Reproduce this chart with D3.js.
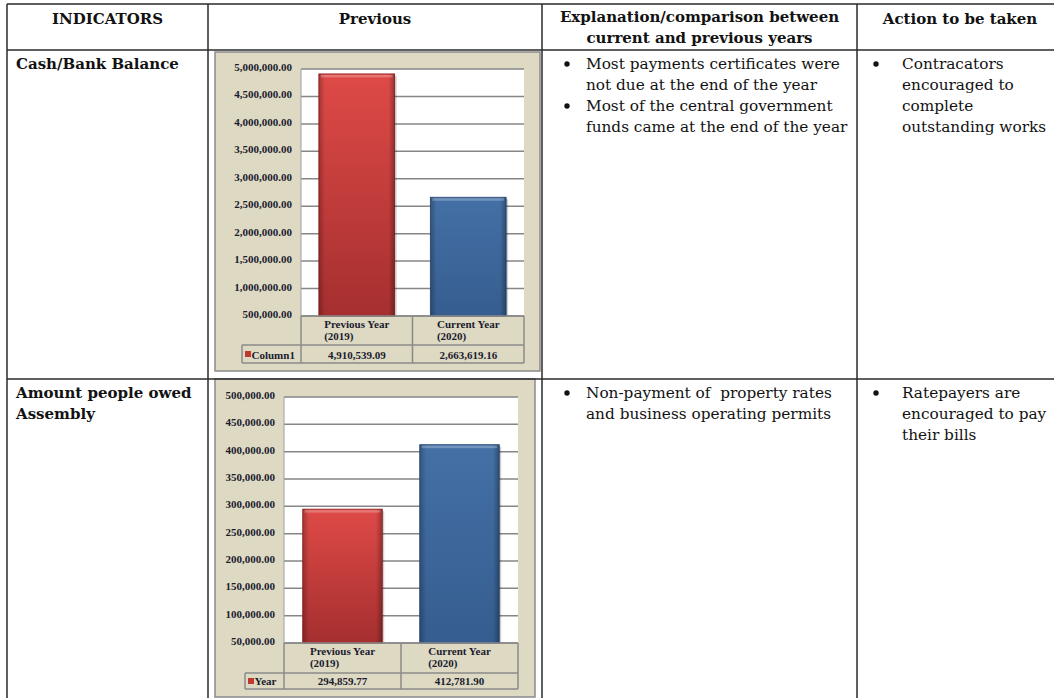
<!DOCTYPE html>
<html>
<head>
<meta charset="utf-8">
<script src="https://cdn.jsdelivr.net/npm/d3@7"></script>
<style>
  body { margin: 0; background: #fff; }
  svg { display: block; }
  svg text { white-space: pre; }
</style>
</head>
<body>
<script>
// table text
let headers = ['INDICATORS', 'Previous', 'Explanation/comparison between|current and previous years', 'Action to be taken']
let indicators = [['Cash/Bank Balance'], ['Amount people owed', 'Assembly']]
let explanations = [
  [['Most payments certificates were', 'not due at the end of the year'], ['Most of the central government', 'funds came at the end of the year']],
  [['Non-payment of  property rates', 'and business operating permits']]
]
let actions = [
  [['Contracators', 'encouraged to', 'complete', 'outstanding works']],
  [['Ratepayers are', 'encouraged to pay', 'their bills']]
]

// chart data
let categories = [['Previous Year', '(2019)'], ['Current Year', '(2020)']]
let cashValues = [4910539.09, 2663619.16]
let cashDomain = [500000, 5000000]
let owedValues = [294859.77, 412781.90]
let owedDomain = [50000, 500000]
let seriesNames = ['Column1', 'Year']

let W = 1054, H = 698
let colX = [7, 208, 542, 857, 1064]
let rowY = [4, 50, 379, 702]
let serif = "'DejaVu Serif', serif"
let chartFont = "'Liberation Serif', 'Times New Roman', serif"
let bodySize = 15.3, headSize = 15

let svg = d3.select('body').append('svg').attr('width', W).attr('height', H)
svg.append('rect').attr('width', W).attr('height', H).attr('fill', '#fff')

// gradients for bevelled bars
let defs = svg.append('defs')
function grad (id, stops, horiz) {
  let g = defs.append('linearGradient').attr('id', id)
    .attr('x1', 0).attr('y1', 0).attr('x2', horiz ? 1 : 0).attr('y2', horiz ? 0 : 1)
  stops.forEach(function (s) { g.append('stop').attr('offset', s[0]).attr('stop-color', s[1]).attr('stop-opacity', s[2] == null ? 1 : s[2]) })
}
grad('redFill', [[0, '#de4a47'], [1, '#a52f2f']])
grad('blueFill', [[0, '#4470a6'], [1, '#365d8f']])
grad('edges', [[0, '#000', 0.25], [0.08, '#000', 0], [0.92, '#000', 0], [1, '#000', 0.3]], true)
let barFills = ['url(#redFill)', 'url(#blueFill)']
let barStrokes = ['#8e2424', '#2c4c76']
let swatch = '#c0392f'

// table text
let tt = svg.append('g').attr('fill', '#121212').attr('font-family', serif)
headers.forEach(function (h, i) {
  let lines = h.split('|')
  let cx = (colX[i] + colX[i + 1]) / 2
  if (i == 3) cx = 960
  lines.forEach(function (l, j) {
    tt.append('text').attr('x', cx).attr('y', (lines.length == 1 ? 24 : 22) + j * 21)
      .attr('text-anchor', 'middle').attr('font-size', headSize).attr('font-weight', 'bold').text(l)
  })
})

function rowText (r) {
  let top = rowY[r + 1]
  indicators[r].forEach(function (l, j) {
    tt.append('text').attr('x', 16).attr('y', top + 19 + j * 21)
      .attr('font-size', headSize).attr('font-weight', 'bold').text(l)
  })
  let bullets = function (items, bx, tx) {
    let line = 0
    items.forEach(function (it) {
      tt.append('circle').attr('cx', bx).attr('cy', top + 14 + line * 21).attr('r', 2.7)
      it.forEach(function (l) {
        tt.append('text').attr('x', tx).attr('y', top + 19 + line * 21)
          .attr('font-size', bodySize).text(l)
        line++
      })
    })
  }
  bullets(explanations[r], 567, 586)
  bullets(actions[r], 876, 902)
}
rowText(0)
rowText(1)

// chart drawing
function drawChart (o) {
  let g = svg.append('g').attr('font-family', chartFont).attr('font-weight', 'bold')
  g.append('rect').attr('x', o.panel[0]).attr('y', o.panel[1]).attr('width', o.panel[2]).attr('height', o.panel[3])
    .attr('fill', '#ddd9c3').attr('stroke', '#8a8a8a').attr('stroke-width', 1.5)

  let left = o.plot[0], top = o.plot[1], right = o.plot[0] + o.plot[2], bottom = o.plot[1] + o.plot[3]
  let y = d3.scaleLinear().domain(o.domain).range([bottom, top])
  let x = d3.scaleBand().domain(d3.range(o.values.length)).range([left, right])
    .paddingInner(0.32).paddingOuter(0.16)

  g.append('rect').attr('x', left).attr('y', top).attr('width', right - left).attr('height', bottom - top).attr('fill', '#fff')

  let ticks = y.ticks(10)
  g.append('g').selectAll('line').data(ticks).enter().append('line')
    .attr('x1', left).attr('x2', right)
    .attr('y1', function (d) { return y(d) }).attr('y2', function (d) { return y(d) })
    .attr('stroke', '#868686').attr('stroke-width', 1.5)
  g.append('line').attr('x1', left).attr('x2', left).attr('y1', top).attr('y2', bottom)
    .attr('stroke', '#a0a0a0').attr('stroke-width', 1)

  let fmt = d3.format(',.2f')
  g.append('g').selectAll('text').data(ticks).enter().append('text')
    .attr('x', o.labelRight).attr('y', function (d) { return y(d) + 2 })
    .attr('text-anchor', 'end').attr('font-size', 11).attr('fill', '#1b1b2e')
    .text(function (d) { return fmt(d) })

  // bars: shadow, body, edge shading, top highlight
  let bars = g.append('g').selectAll('g').data(o.values).enter().append('g')
  bars.append('rect')
    .attr('x', function (d, i) { return x(i) + 2 }).attr('y', function (d) { return y(d) + 2 })
    .attr('width', x.bandwidth()).attr('height', function (d) { return bottom - y(d) - 2 })
    .attr('fill', '#000').attr('opacity', 0.18)
  bars.append('rect')
    .attr('x', function (d, i) { return x(i) }).attr('y', function (d) { return y(d) })
    .attr('width', x.bandwidth()).attr('height', function (d) { return bottom - y(d) })
    .attr('fill', function (d, i) { return barFills[i] })
    .attr('stroke', function (d, i) { return barStrokes[i] }).attr('stroke-width', 0.8)
  bars.append('rect')
    .attr('x', function (d, i) { return x(i) }).attr('y', function (d) { return y(d) })
    .attr('width', x.bandwidth()).attr('height', function (d) { return bottom - y(d) })
    .attr('fill', 'url(#edges)')
  bars.append('rect')
    .attr('x', function (d, i) { return x(i) + 2 }).attr('y', function (d) { return y(d) + 1 })
    .attr('width', x.bandwidth() - 4).attr('height', 2.5)
    .attr('fill', '#fff').attr('opacity', 0.25)

  // data table under the plot
  let catBottom = bottom + o.catH, dataBottom = catBottom + o.dataH
  let cellEdges = [left, (left + right) / 2, right]
  let tl = g.append('g').attr('stroke', '#8a8a8a').attr('stroke-width', 1.5)
  tl.append('line').attr('x1', left).attr('x2', right).attr('y1', bottom).attr('y2', bottom)
  tl.append('line').attr('x1', o.legendLeft).attr('x2', right).attr('y1', catBottom).attr('y2', catBottom)
  tl.append('line').attr('x1', o.legendLeft).attr('x2', right).attr('y1', dataBottom).attr('y2', dataBottom)
  cellEdges.forEach(function (cx) {
    tl.append('line').attr('x1', cx).attr('x2', cx).attr('y1', bottom).attr('y2', dataBottom)
  })
  tl.append('line').attr('x1', o.legendLeft).attr('x2', o.legendLeft).attr('y1', catBottom).attr('y2', dataBottom)

  categories.forEach(function (c, i) {
    let cx = (cellEdges[i] + cellEdges[i + 1]) / 2
    let first = g.append('text').attr('font-size', 11).attr('fill', '#1b1b2e').attr('y', bottom + 12).text(c[0])
    let w = first.node().getComputedTextLength()
    first.attr('x', cx - w / 2)
    g.append('text').attr('font-size', 11).attr('fill', '#1b1b2e').attr('x', cx - w / 2).attr('y', bottom + 24).text(c[1])
  })
  o.values.forEach(function (v, i) {
    let cx = (cellEdges[i] + cellEdges[i + 1]) / 2
    g.append('text').attr('x', cx).attr('y', dataBottom - 4.5).attr('text-anchor', 'middle')
      .attr('font-size', 11).attr('fill', '#1b1b2e').text(fmt(v))
  })
  g.append('rect').attr('x', o.legendLeft + 3).attr('y', catBottom + (o.dataH - 6) / 2)
    .attr('width', 6).attr('height', 6).attr('fill', swatch)
  g.append('text').attr('x', o.legendLeft + 9.5).attr('y', dataBottom - 4.5)
    .attr('font-size', 11).attr('fill', '#1b1b2e').text(o.name)
}

drawChart({
  panel: [215, 52, 325, 319], plot: [301, 69, 223, 247], labelRight: 292,
  catH: 29, dataH: 18, legendLeft: 242,
  values: cashValues, domain: cashDomain, name: seriesNames[0]
})
drawChart({
  panel: [215, 379, 320, 318], plot: [284, 397, 234, 246], labelRight: 275,
  catH: 30, dataH: 16, legendLeft: 245,
  values: owedValues, domain: owedDomain, name: seriesNames[1]
})

// table grid on top
let grid = svg.append('g').attr('stroke', '#2a2a2a').attr('stroke-width', 1.5)
rowY.slice(0, 3).forEach(function (yy) {
  grid.append('line').attr('x1', colX[0]).attr('x2', W).attr('y1', yy).attr('y2', yy)
})
colX.forEach(function (xx) {
  grid.append('line').attr('x1', xx).attr('x2', xx).attr('y1', rowY[0]).attr('y2', H)
})
</script>
</body>
</html>
